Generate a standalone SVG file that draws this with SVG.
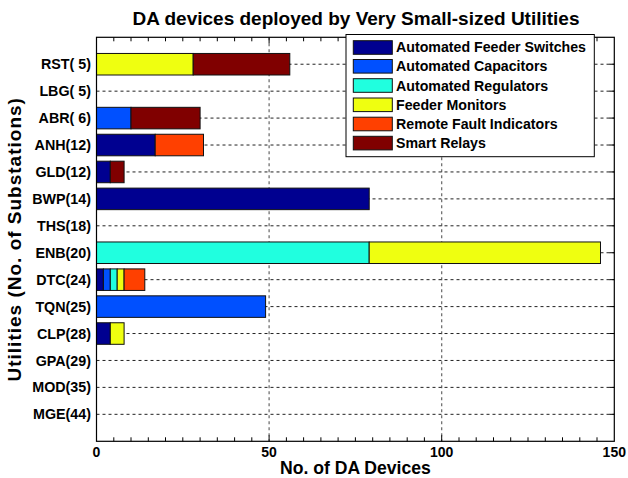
<svg xmlns="http://www.w3.org/2000/svg" width="628" height="478" viewBox="0 0 628 478">
<style>
text{font-family:"Liberation Sans",Arial,sans-serif;font-weight:bold;fill:#000}
.t{font-size:19px}
.yl{font-size:14.3px;text-anchor:end}
.xl{font-size:14px;text-anchor:middle}
.lg{font-size:14.2px}
.al{font-size:17.6px;text-anchor:middle}
.hg{stroke:#222;stroke-width:1;stroke-dasharray:3,3;fill:none}
.vg{stroke:#666;stroke-width:1.2;stroke-dasharray:3,3;fill:none}
.tk{stroke:#000;stroke-width:1;fill:none}
.b{stroke:#111;stroke-width:1}
.c1{fill:#000090}.c2{fill:#0050FF}.c3{fill:#20FFDF}.c4{fill:#EFFF10}.c5{fill:#FF4000}.c6{fill:#800000}
</style>
<rect width="628" height="478" fill="#fff"/>
<text class="t" x="356" y="25" text-anchor="middle">DA devices deployed by Very Small-sized Utilities</text>
<g id="grid">
<path class="vg" d="M269.1 37.3V441.3M441.7 37.3V441.3"/>
<path class="hg" d="M96.5 64.23H614.3M96.5 91.16H614.3M96.5 118.09H614.3M96.5 145.02H614.3M96.5 171.95H614.3M96.5 198.88H614.3M96.5 225.81H614.3M96.5 252.74H614.3M96.5 279.67H614.3M96.5 306.6H614.3M96.5 333.53H614.3M96.5 360.46H614.3M96.5 387.39H614.3M96.5 414.32H614.3"/>
</g>
<g id="bars">
<g id="RST"><rect class="b c4" x="96.5" y="53.46" width="96.7" height="21.54"/><rect class="b c6" x="193.2" y="53.46" width="96.6" height="21.54"/></g>
<g id="ABR"><rect class="b c2" x="96.5" y="107.32" width="34.5" height="21.54"/><rect class="b c6" x="131" y="107.32" width="69.1" height="21.54"/></g>
<g id="ANH"><rect class="b c1" x="96.5" y="134.25" width="58.7" height="21.54"/><rect class="b c5" x="155.2" y="134.25" width="48.3" height="21.54"/></g>
<g id="GLD"><rect class="b c1" x="96.5" y="161.18" width="13.8" height="21.54"/><rect class="b c6" x="110.3" y="161.18" width="13.8" height="21.54"/></g>
<g id="BWP"><rect class="b c1" x="96.5" y="188.11" width="272.7" height="21.54"/></g>
<g id="ENB"><rect class="b c3" x="96.5" y="241.97" width="272.7" height="21.54"/><rect class="b c4" x="369.2" y="241.97" width="231.3" height="21.54"/></g>
<g id="DTC"><rect class="b c1" x="96.5" y="268.9" width="6.9" height="21.54"/><rect class="b c2" x="103.4" y="268.9" width="6.9" height="21.54"/><rect class="b c3" x="110.3" y="268.9" width="6.9" height="21.54"/><rect class="b c4" x="117.2" y="268.9" width="6.9" height="21.54"/><rect class="b c5" x="124.1" y="268.9" width="20.7" height="21.54"/></g>
<g id="TQN"><rect class="b c2" x="96.5" y="295.83" width="169.1" height="21.54"/></g>
<g id="CLP"><rect class="b c1" x="96.5" y="322.76" width="13.8" height="21.54"/><rect class="b c4" x="110.3" y="322.76" width="13.8" height="21.54"/></g>
</g>
<g id="axes">
<rect x="96.5" y="37.3" width="517.8" height="404" fill="none" stroke="#000" stroke-width="1.2"/>
<path class="tk" d="M113.8 441.3v-4M131 441.3v-4M148.3 441.3v-4M165.5 441.3v-4M182.8 441.3v-4M200.1 441.3v-4M217.3 441.3v-4M234.6 441.3v-4M251.8 441.3v-4M269.1 441.3v-6M286.4 441.3v-4M303.6 441.3v-4M320.9 441.3v-4M338.1 441.3v-4M355.4 441.3v-4M372.7 441.3v-4M389.9 441.3v-4M407.2 441.3v-4M424.4 441.3v-4M441.7 441.3v-6M459 441.3v-4M476.2 441.3v-4M493.5 441.3v-4M510.7 441.3v-4M528 441.3v-4M545.3 441.3v-4M562.5 441.3v-4M579.8 441.3v-4M597 441.3v-4"/>
<path class="tk" d="M113.8 37.3v4M131 37.3v4M148.3 37.3v4M165.5 37.3v4M182.8 37.3v4M200.1 37.3v4M217.3 37.3v4M234.6 37.3v4M251.8 37.3v4M269.1 37.3v6M286.4 37.3v4M303.6 37.3v4M320.9 37.3v4M338.1 37.3v4M355.4 37.3v4M372.7 37.3v4M389.9 37.3v4M407.2 37.3v4M424.4 37.3v4M441.7 37.3v6M459 37.3v4M476.2 37.3v4M493.5 37.3v4M510.7 37.3v4M528 37.3v4M545.3 37.3v4M562.5 37.3v4M579.8 37.3v4M597 37.3v4"/>
<path class="tk" d="M614.3 64.23h-5M614.3 91.16h-5M614.3 118.09h-5M614.3 145.02h-5M614.3 171.95h-5M614.3 198.88h-5M614.3 225.81h-5M614.3 252.74h-5M614.3 279.67h-5M614.3 306.6h-5M614.3 333.53h-5M614.3 360.46h-5M614.3 387.39h-5M614.3 414.32h-5"/>
</g>
<g id="ylabels">
<text class="yl" x="91" y="69.3">RST( 5)</text>
<text class="yl" x="91" y="96.2">LBG( 5)</text>
<text class="yl" x="91" y="123.1">ABR( 6)</text>
<text class="yl" x="91" y="150">ANH(12)</text>
<text class="yl" x="91" y="177">GLD(12)</text>
<text class="yl" x="91" y="203.9">BWP(14)</text>
<text class="yl" x="91" y="230.8">THS(18)</text>
<text class="yl" x="91" y="257.8">ENB(20)</text>
<text class="yl" x="91" y="284.7">DTC(24)</text>
<text class="yl" x="91" y="311.6">TQN(25)</text>
<text class="yl" x="91" y="338.6">CLP(28)</text>
<text class="yl" x="91" y="365.5">GPA(29)</text>
<text class="yl" x="91" y="392.4">MOD(35)</text>
<text class="yl" x="91" y="419.3">MGE(44)</text>
</g>
<g id="xlabels">
<text class="xl" x="96.5" y="456.5">0</text>
<text class="xl" x="269.1" y="456.5">50</text>
<text class="xl" x="441.7" y="456.5">100</text>
<text class="xl" x="614.3" y="456.5">150</text>
</g>
<text class="al" x="355.4" y="474">No. of DA Devices</text>
<text class="al" style="font-size:19px;letter-spacing:1px" transform="translate(21 239.3) rotate(-90)">Utilities (No. of Substations)</text>
<g id="legend">
<rect x="346" y="34.5" width="248.3" height="122.2" fill="#fff" stroke="#000" stroke-width="1"/>
<rect class="b c1" x="353.3" y="40.7" width="39" height="13.6"/>
<rect class="b c2" x="353.3" y="59.5" width="39" height="13.6"/>
<rect class="b c3" x="353.3" y="78.7" width="39" height="13.6"/>
<rect class="b c4" x="353.3" y="98" width="39" height="13.6"/>
<rect class="b c5" x="353.3" y="117.2" width="39" height="13.6"/>
<rect class="b c6" x="353.3" y="136.3" width="39" height="13.6"/>
<text class="lg" x="396" y="52.3">Automated Feeder Switches</text>
<text class="lg" x="396" y="71.3">Automated Capacitors</text>
<text class="lg" x="396" y="90.5">Automated Regulators</text>
<text class="lg" x="396" y="109.8">Feeder Monitors</text>
<text class="lg" x="396" y="129">Remote Fault Indicators</text>
<text class="lg" x="396" y="148.1">Smart Relays</text>
</g>
</svg>
